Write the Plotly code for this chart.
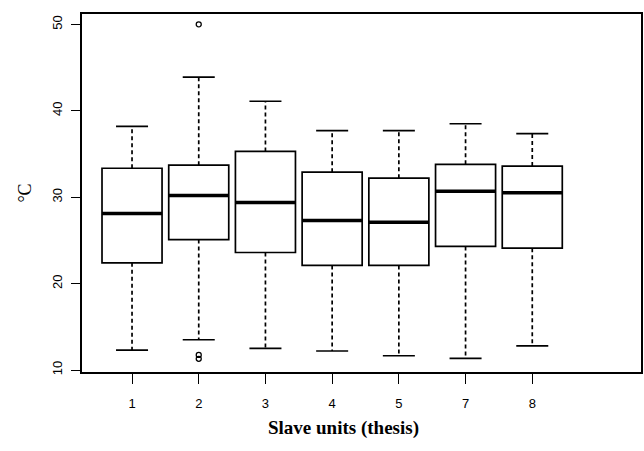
import plotly.graph_objects as go

# ---- data ----
units = ["1", "2", "3", "4", "5", "7", "8"]
upper_whisker = [38.2, 43.9, 41.1, 37.7, 37.7, 38.5, 37.35]
q3 = [33.35, 33.7, 35.3, 32.9, 32.2, 33.8, 33.6]
median = [28.1, 30.2, 29.4, 27.3, 27.1, 30.7, 30.5]
q1 = [22.4, 25.1, 23.6, 22.1, 22.1, 24.3, 24.1]
lower_whisker = [12.3, 13.5, 12.5, 12.2, 11.65, 11.35, 12.8]
outlier_unit = ["2", "2", "2"]
outlier_value = [50.0, 11.75, 11.3]

pos = list(range(1, len(units) + 1))
unit_pos = {u: p for u, p in zip(units, pos)}

BOX_W = 0.9
CAP_HALF = 0.24

fig = go.Figure()

# boxes (no whiskers, those are drawn dashed below)
fig.add_trace(go.Box(
    x=pos, q1=q1, median=median, q3=q3,
    lowerfence=q1, upperfence=q3,
    width=BOX_W, boxpoints=False,
    fillcolor="white", line=dict(color="black", width=1.7),
    whiskerwidth=0, showlegend=False, hoverinfo="skip",
))

# dashed whiskers
wx, wy = [], []
for p, a, b, c, d in zip(pos, q3, upper_whisker, q1, lower_whisker):
    wx += [p, p, None, p, p, None]
    wy += [a, b, None, c, d, None]
fig.add_trace(go.Scatter(x=wx, y=wy, mode="lines",
                         line=dict(color="black", width=1.7, dash="4px,3px"),
                         showlegend=False, hoverinfo="skip"))

# whisker caps
cx, cy = [], []
for p, b, d in zip(pos, upper_whisker, lower_whisker):
    cx += [p - CAP_HALF, p + CAP_HALF, None, p - CAP_HALF, p + CAP_HALF, None]
    cy += [b, b, None, d, d, None]
fig.add_trace(go.Scatter(x=cx, y=cy, mode="lines",
                         line=dict(color="black", width=1.7),
                         showlegend=False, hoverinfo="skip"))

# thick medians
mx, my = [], []
for p, m in zip(pos, median):
    mx += [p - BOX_W / 2, p + BOX_W / 2, None]
    my += [m, m, None]
fig.add_trace(go.Scatter(x=mx, y=my, mode="lines",
                         line=dict(color="black", width=3.5),
                         showlegend=False, hoverinfo="skip"))

# outliers
fig.add_trace(go.Scatter(x=[unit_pos[u] for u in outlier_unit], y=outlier_value,
                         mode="markers",
                         marker=dict(symbol="circle-open", size=5, color="black",
                                     line=dict(width=1.3)),
                         showlegend=False, hoverinfo="skip"))

fig.update_layout(
    width=644, height=451,
    margin=dict(l=82, r=3, t=14, b=79, autoexpand=False),
    paper_bgcolor="white", plot_bgcolor="white",
    font=dict(family="Liberation Sans, Arial, sans-serif", color="black"),
)

fig.update_xaxes(
    automargin=False,
    range=[0.25, 8.63],
    tickmode="array", tickvals=pos, ticktext=units,
    ticks="outside", ticklen=10, tickwidth=1.3, tickcolor="black",
    ticklabelstandoff=8,
    tickfont=dict(size=13, family="Liberation Sans, Arial, sans-serif"),
    showline=True, linecolor="black", linewidth=1.8, mirror=True,
    showgrid=False, zeroline=False,
)
fig.update_yaxes(
    automargin=False,
    range=[9.77, 51.2],
    tickmode="array", tickvals=[10, 20, 30, 40, 50],
    ticks="outside", ticklen=9, tickwidth=1.3, tickcolor="black",
    tickangle=-90, ticklabelstandoff=4,
    tickfont=dict(size=13, family="Liberation Sans, Arial, sans-serif"),
    showline=True, linecolor="black", linewidth=1.8, mirror=True,
    showgrid=False, zeroline=False,
    title=dict(text="°C", standoff=14,
               font=dict(size=18, family="Liberation Serif, Times New Roman, serif")),
)

fig.add_annotation(
    text="<b>Slave units (thesis)</b>",
    xref="paper", yref="paper",
    x=(343 - 82) / (641 - 82), y=-(428 - 372) / (372 - 14),
    xanchor="center", yanchor="middle", showarrow=False,
    font=dict(size=19, family="Liberation Serif, Times New Roman, serif", color="black"),
)

fig.write_html(
    "out.html",
    config={"displayModeBar": False},
    post_script="document.body.style.margin='0';document.body.style.overflow='hidden';",
)
